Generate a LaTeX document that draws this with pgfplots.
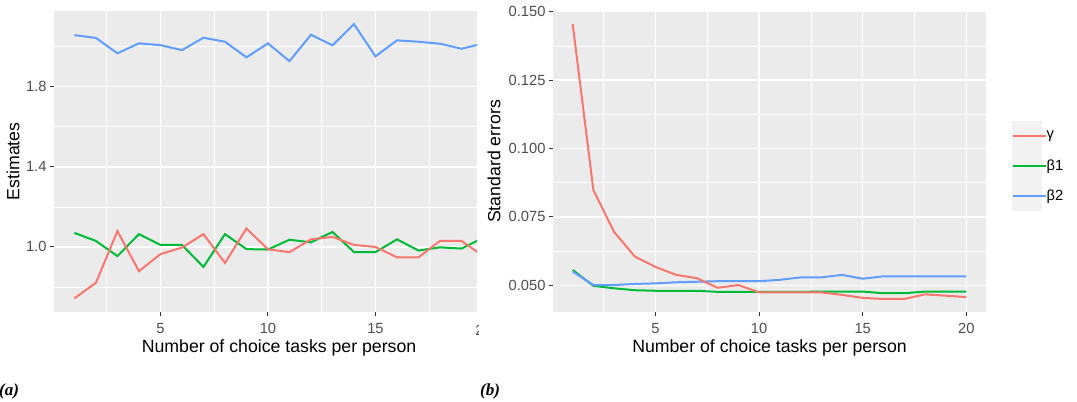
\documentclass[border=0pt]{standalone}
\usepackage{fontspec}
\setmainfont{Liberation Sans}
\newfontfamily\serifbi{Liberation Serif}
\usepackage{pgfplots}
\pgfplotsset{compat=1.18}
\definecolor{gpred}{HTML}{F8766D}
\definecolor{gpgreen}{HTML}{00BA38}
\definecolor{gpblue}{HTML}{619CFF}
\definecolor{panelbg}{HTML}{EBEBEB}
\definecolor{ticktext}{HTML}{4D4D4D}
\definecolor{tickmark}{HTML}{333333}
\definecolor{keybg}{HTML}{F2F2F2}

\pgfplotsset{
  ggstyle/.style={
    scale only axis,
    axis background/.style={fill=panelbg},
    axis line style={draw=none},
    grid=both,
    major grid style={white, line width=1.3bp},
    minor grid style={white, line width=0.65bp},
    xtick pos=left, ytick pos=left,
    tick align=outside,
    major tick length=4bp,
    minor tick length=0pt,
    every tick/.style={tickmark, line width=1bp},
    tick label style={font=\fontsize{14.7bp}{16bp}\selectfont, color=ticktext},
    xticklabel style={yshift=-4bp},
    label style={font=\fontsize{17.7bp}{20bp}\selectfont, color=black},
    every axis plot/.append style={line width=2bp, no markers},
  }
}

\pgfplotstableread{
x g b1 b2
1 0.743 1.070 2.058
2 0.821 1.030 2.044
3 1.079 0.954 1.967
4 0.879 1.064 2.017
5 0.964 1.010 2.008
6 0.997 1.010 1.983
7 1.064 0.900 2.045
8 0.920 1.064 2.025
9 1.092 0.989 1.947
10 0.988 0.987 2.017
11 0.974 1.036 1.928
12 1.038 1.023 2.060
13 1.050 1.075 2.007
14 1.010 0.974 2.113
15 1.000 0.974 1.952
16 0.948 1.038 2.032
17 0.948 0.982 2.025
18 1.030 0.998 2.015
19 1.030 0.992 1.990
20 0.955 1.045 2.016
}\estimates

\pgfplotstableread{
x g b1 b2
1 0.1455 0.0556 0.0550
2 0.0848 0.0498 0.0501
3 0.0695 0.0489 0.0501
4 0.0605 0.0482 0.0505
5 0.0567 0.0480 0.0507
6 0.0538 0.0480 0.0511
7 0.0526 0.0480 0.0513
8 0.0491 0.0476 0.0515
9 0.0501 0.0476 0.0515
10 0.0474 0.0476 0.0515
11 0.0474 0.0476 0.0520
12 0.0474 0.0476 0.0529
13 0.0474 0.0477 0.0529
14 0.0465 0.0477 0.0538
15 0.0454 0.0477 0.0524
16 0.0450 0.0471 0.0533
17 0.0450 0.0471 0.0533
18 0.0467 0.0477 0.0533
19 0.0462 0.0477 0.0533
20 0.0457 0.0477 0.0533
}\stderrs

\begin{document}
\begin{tikzpicture}
\path[use as bounding box] (0,0) rectangle (1077bp,402bp);

\begin{axis}[ggstyle,
  at={(54bp,90bp)}, anchor=south west,
  width=423bp, height=301.3bp,
  xmin=0.05, xmax=19.72, ymin=0.675, ymax=2.18,
  xtick={5,10,15}, xticklabels={5,10,15},
  minor xtick={2.5,7.5,12.5,17.5},
  ytick={1.0,1.4,1.8}, yticklabels={1.0,1.4,1.8},
  minor ytick={0.8,1.2,1.6,2.0},
  xlabel={Number of choice tasks per person},
  ylabel={Estimates},
  xlabel style={at={(axis description cs:0.532,-0.1195)}, anchor=center},
  ylabel style={at={(axis description cs:-0.0969,0.5)}, anchor=center},
]
\addplot[gpgreen] table[x=x, y=b1] {\estimates};
\addplot[gpblue] table[x=x, y=b2] {\estimates};
\addplot[gpred] table[x=x, y=g] {\estimates};
\end{axis}

% cropped tick label "20" at the cut edge of panel (a)
\begin{scope}
\clip (440bp,40bp) rectangle (478bp,88bp);
\node[font=\fontsize{14.7bp}{16bp}\selectfont, text=ticktext, anchor=center] at (483.5bp,72bp) {20};
\end{scope}

\begin{axis}[ggstyle,
  at={(553bp,90bp)}, anchor=south west,
  width=433bp, height=301.3bp,
  xmin=0.05, xmax=20.95, ymin=0.04024, ymax=0.15037,
  xtick={5,10,15,20}, xticklabels={5,10,15,20},
  minor xtick={2.5,7.5,12.5,17.5},
  ytick={0.05,0.075,0.1,0.125,0.15},
  yticklabels={0.050,0.075,0.100,0.125,0.150},
  minor ytick={0.0625,0.0875,0.1125,0.1375},
  xlabel={Number of choice tasks per person},
  ylabel={Standard errors},
  xlabel style={at={(axis description cs:0.5,-0.1195)}, anchor=center},
  ylabel style={at={(axis description cs:-0.1363,0.5)}, anchor=center},
  legend style={at={(axis description cs:1.0594,0.486)}, anchor=west,
    draw=none, fill=none, inner sep=0pt, outer sep=0pt, row sep=0pt,
    font=\fontsize{14.7bp}{16bp}\selectfont,
    cells={anchor=west}, nodes={inner sep=0pt}},
  legend image code/.code={
    \fill[keybg] (0bp,-14bp) rectangle (28.3bp,14bp);
    \path (0bp,0bp) -- (33bp,0bp);
    \draw[line width=1.8bp] (2.8bp,0bp) -- (25.5bp,0bp);
  },
]
\addplot[gpgreen, forget plot] table[x=x, y=b1] {\stderrs};
\addplot[gpblue, forget plot] table[x=x, y=b2] {\stderrs};
\addplot[gpred, forget plot] table[x=x, y=g] {\stderrs};
\addlegendimage{draw=gpred, color=gpred}
\addlegendentry{γ}
\addlegendimage{draw=gpgreen, color=gpgreen}
\addlegendentry{β1}
\addlegendimage{draw=gpblue, color=gpblue}
\addlegendentry{β2}
\end{axis}

\node[anchor=west, inner sep=0pt, font=\serifbi\bfseries\itshape\fontsize{17bp}{19bp}\selectfont] at (-1bp,11bp) {(a)};
\node[anchor=west, inner sep=0pt, font=\serifbi\bfseries\itshape\fontsize{17bp}{19bp}\selectfont] at (480bp,11bp) {(b)};
\end{tikzpicture}
\end{document}
